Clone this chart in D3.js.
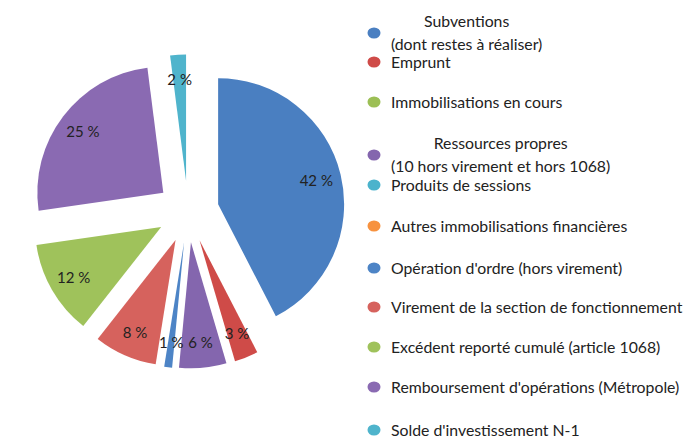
<!DOCTYPE html>
<html><head><meta charset="utf-8">
<script src="https://cdn.jsdelivr.net/npm/d3@7"></script>
<style>body{margin:0;background:#fff}</style>
</head><body>
<svg id="c" width="693" height="438"></svg>
<script>
const categories = [
  ["Subventions","(dont restes à réaliser)"],
  ["Emprunt"],
  ["Immobilisations en cours"],
  ["Ressources propres","(10 hors virement et hors 1068)"],
  ["Produits de sessions"],
  ["Autres immobilisations financières"],
  ["Opération d'ordre (hors virement)"],
  ["Virement de la section de fonctionnement"],
  ["Excédent reporté cumulé (article 1068)"],
  ["Remboursement d'opérations (Métropole)"],
  ["Solde d'investissement N-1"]
];
const values = [42, 3, 0, 6, 0, 0, 1, 8, 12, 25, 2];
const colors = ["#4a7fc1","#cf4b48","#9cbf55","#8466ae","#4bb3cc","#f7923f",
                "#4d84c6","#d6625d","#9fc25b","#8a6ab2","#4fb4cc"];
const legendY = [33, 62, 102, 155, 185, 226, 268, 307, 347, 387, 430];

const svg = d3.select("#c");
const cx = 188, cy = 211.5, R = 126, explode = 31, labelR = 101;
const font = "Lato, 'Open Sans', sans-serif";
const legFS = 15.8;

const pie = d3.pie().sort(null).value(d => d.v);
const data = pie(values.map((v,i) => ({v, i})));
const arc = d3.arc().innerRadius(0).outerRadius(R);
const labArc = d3.arc().innerRadius(labelR).outerRadius(labelR);

const g = svg.append("g").attr("transform", `translate(${cx},${cy})`);
const sl = g.selectAll("g.s").data(data.filter(d => d.data.v > 0)).join("g")
  .attr("transform", d => {
    const m = (d.startAngle + d.endAngle) / 2;
    return `translate(${explode*Math.sin(m)},${-explode*Math.cos(m)})`;
  });
sl.append("path").attr("d", arc).attr("fill", d => colors[d.data.i]);
sl.append("text")
  .attr("transform", d => `translate(${labArc.centroid(d)})`)
  .attr("text-anchor", "middle").attr("dy", "0.35em")
  .attr("font-family", font).attr("font-size", 15).attr("fill", "#222")
  .text(d => `${d.data.v} %`);

const lg = svg.append("g");
categories.forEach((lines, i) => {
  const y = legendY[i];
  lg.append("ellipse").attr("cx", 374).attr("cy", y).attr("rx", 6.5).attr("ry", 5.5)
    .attr("fill", colors[i]);
  const t = lg.append("text").attr("font-family", font).attr("font-size", legFS)
    .attr("fill", "#222");
  if (lines.length === 1) {
    t.attr("x", 391).attr("y", y).attr("dy", "0.35em").text(lines[0]);
  } else {
    // two-line centred entry
    const tmp = lg.append("text").attr("font-family", font).attr("font-size", legFS).text(lines[1]);
    const w = tmp.node().getComputedTextLength(); tmp.remove();
    const mid = 391 + w / 2;
    t.attr("text-anchor", "middle");
    t.append("tspan").attr("x", mid).attr("y", y - 11.5).attr("dy", "0.35em").text(lines[0]);
    t.append("tspan").attr("x", mid).attr("y", y + 11.5).attr("dy", "0.35em").text(lines[1]);
  }
});
</script>
</body></html>
